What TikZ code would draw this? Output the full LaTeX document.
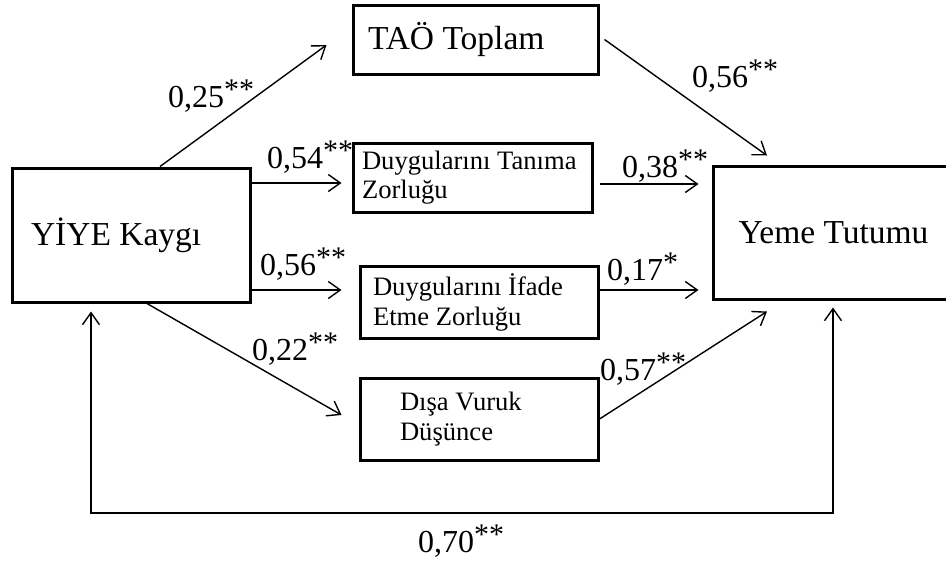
\documentclass[tikz,border=0pt]{standalone}
\usepackage{fontspec}
\setmainfont{Liberation Serif}
\usetikzlibrary{arrows.meta}
\newcommand{\stars}[1]{\raisebox{8pt}{\fontsize{30}{30}\selectfont #1}}
\newcommand{\plainspace}{\spaceskip=0pt\relax}

\begin{document}
\begin{tikzpicture}[
  x=1pt,y=-1pt,
  >={Straight Barb[length=12pt,width=17pt]},
  box/.style={draw,line width=3pt,inner sep=0pt,align=left,
              font=\fontsize{33.5}{38}\selectfont},
  sbox/.style={box,font=\fontsize{26.6}{30}\selectfont},
  ar/.style={->,line width=1.4pt},
  lbl/.style={anchor=base west,inner sep=0pt,font=\fontsize{32}{36}\selectfont},
]
\useasboundingbox (0,0) rectangle (946,565);

\node[box,minimum width=238pt,minimum height=134pt,text width=200pt] (yiye) at (131,235) {\plainspace YİYE Kaygı};
\node[box,minimum width=241pt,minimum height=133pt] (yeme) at (833.5,232.5) {Yeme Tutumu};
\node[box,minimum width=245pt,minimum height=69pt,text width=215pt] (tao) at (475.5,39.5) {\plainspace TAÖ Toplam};
\node[sbox,font=\fontsize{26.6}{29}\selectfont,minimum width=239pt,minimum height=69pt,
      text width=221pt] (tanima) at (472.5,177.5) {\plainspace Duygularını Tanıma\\Zorluğu};
\node[sbox,minimum width=238pt,minimum height=72pt,text width=212pt] (ifade) at (479,302)
  {\plainspace Duygularını İfade\\Etme Zorluğu};
\node[sbox,minimum width=238pt,minimum height=82pt,text width=158pt] (disa) at (479,419)
  {\plainspace Dışa Vuruk\\Düşünce};

\draw[ar] ([xshift=29pt]yiye.north) -- ([xshift=-25pt,yshift=-5.5pt]tao.west);
\draw[ar] ([yshift=52pt]yiye.east) -- ([xshift=-10pt,yshift=-5.5pt]tanima.west);
\draw[ar] ([yshift=-55pt]yiye.east) -- ([xshift=-17pt,yshift=12pt]ifade.west);
\draw[ar] ([xshift=16pt]yiye.south) -- ([xshift=-17pt,yshift=4pt]disa.west);
\draw[ar] ([xshift=5pt]tao.east) -- ([xshift=-66.5pt,yshift=9pt]yeme.north);
\draw[ar] ([xshift=6pt,yshift=-6.5pt]tanima.east) -- ([xshift=-13pt,yshift=48.5pt]yeme.west);
\draw[ar] ([yshift=12pt]ifade.east) -- ([xshift=-13pt,yshift=-57.5pt]yeme.west);
\draw[ar] (disa.east) -- ([xshift=-66.5pt,yshift=-11pt]yeme.south);

\coordinate (lpa) at ([xshift=-40pt,yshift=-8pt]yiye.south);
\coordinate (lpb) at ([xshift=-0.5pt,yshift=-7pt]yeme.south);
\draw[ar,<->] (lpa) -- (lpa |- 0,513) -- (lpb |- 0,513) -- (lpb);

\node[lbl] (w25) at (168,107) {0,25\stars{**}};
\node[lbl] (w54) at (267,168) {0,54\stars{**}};
\node[lbl] (w56a) at (260,275) {0,56\stars{**}};
\node[lbl] (w22) at (252,360) {0,22\stars{**}};
\node[lbl] (w56b) at (692,87) {0,56\stars{**}};
\node[lbl] (w38) at (622,177) {0,38\stars{**}};
\node[lbl] (w17) at (607,280) {0,17\stars{*}};
\node[lbl] (w57) at (600,380) {0,57\stars{**}};
\node[lbl] (w70) at (418,552) {0,70\stars{**}};
\end{tikzpicture}
\end{document}
